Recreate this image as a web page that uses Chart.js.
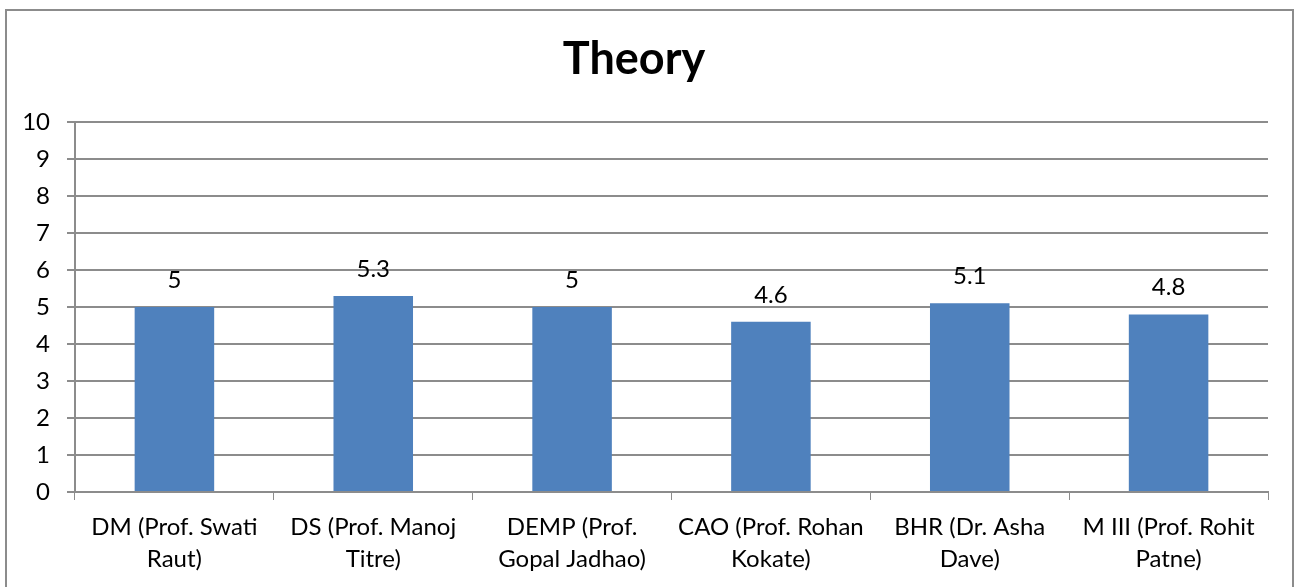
<!DOCTYPE html>
<html>
<head>
<meta charset="utf-8">
<script src="https://cdn.jsdelivr.net/npm/chart.js@4/dist/chart.umd.min.js"></script>
<style>
  html, body { margin: 0; padding: 0; background: #fff; overflow: hidden; }
  #wrap { position: relative; width: 1298px; height: 587px; }
  #frame { position: absolute; left: 5px; top: 9px; width: 1289px; height: 600px; border: 2px solid #8c8c8c; box-sizing: border-box; }
  canvas { position: absolute; left: 0; top: 0; }
</style>
</head>
<body>
<div id="wrap">
  <div id="frame"></div>
  <canvas id="barChart" width="1298" height="587"></canvas>
</div>
<script>
// chart values
const subjects = [
    ['DM (Prof. Swati', 'Raut)'],
    ['DS (Prof. Manoj', 'Titre)'],
    ['DEMP (Prof.', 'Gopal Jadhao)'],
    ['CAO (Prof. Rohan', 'Kokate)'],
    ['BHR (Dr. Asha', 'Dave)'],
    ['M III (Prof. Rohit', 'Patne)']
];
const scores = [5, 5.3, 5, 4.6, 5.1, 4.8];
const yTicks = [0, 1, 2, 3, 4, 5, 6, 7, 8, 9, 10];

const fontFamily = 'Lato, "Open Sans", sans-serif';
const gray = '#8c8c8c';

// draws the value above each bar
const valueLabels = {
    id: 'valueLabels',
    afterDatasetsDraw(chart) {
        const c = chart.ctx;
        c.save();
        c.font = '24px ' + fontFamily;
        c.fillStyle = '#000';
        c.textAlign = 'center';
        c.textBaseline = 'alphabetic';
        chart.getDatasetMeta(0).data.forEach((bar, i) => {
            c.fillText(String(scores[i]), bar.x, bar.y - 19);
        });
        c.restore();
    }
};

const ctx = document.getElementById('barChart').getContext('2d');
new Chart(ctx, {
    type: 'bar',
    data: {
        labels: subjects,
        datasets: [{
            label: 'Theory',
            data: scores,
            backgroundColor: '#4F81BD',
            barPercentage: 0.4,
            categoryPercentage: 1.0
        }]
    },
    options: {
        responsive: false,
        animation: false,
        layout: { padding: { left: 0, right: 30, top: 0, bottom: 0 } },
        plugins: {
            legend: { display: false },
            tooltip: { enabled: false },
            title: {
                display: true,
                text: 'Theory',
                color: '#000',
                font: { family: fontFamily, size: 45, weight: 'bold', lineHeight: 1.2 },
                padding: { top: 32, bottom: 36 }
            }
        },
        scales: {
            x: {
                offset: true,
                grid: { display: true, drawOnChartArea: false, drawTicks: true, tickLength: 8, color: gray, offset: true },
                border: { display: true, color: gray, width: 2 },
                ticks: {
                    color: '#000',
                    padding: 11,
                    maxRotation: 0,
                    autoSkip: false,
                    font: { family: fontFamily, size: 24, lineHeight: 1.35 }
                },
                afterFit(scale) { scale.height = 95; }
            },
            y: {
                min: 0,
                max: 10,
                afterBuildTicks(scale) { scale.ticks = yTicks.map(v => ({ value: v })); },
                grid: { color: gray, lineWidth: 2, tickLength: 8 },
                border: { display: true, color: gray, width: 2 },
                ticks: {
                    color: '#000',
                    padding: 17,
                    font: { family: fontFamily, size: 24 }
                },
                afterFit(scale) { scale.width = 75; }
            }
        }
    },
    plugins: [valueLabels]
});
</script>
</body>
</html>
